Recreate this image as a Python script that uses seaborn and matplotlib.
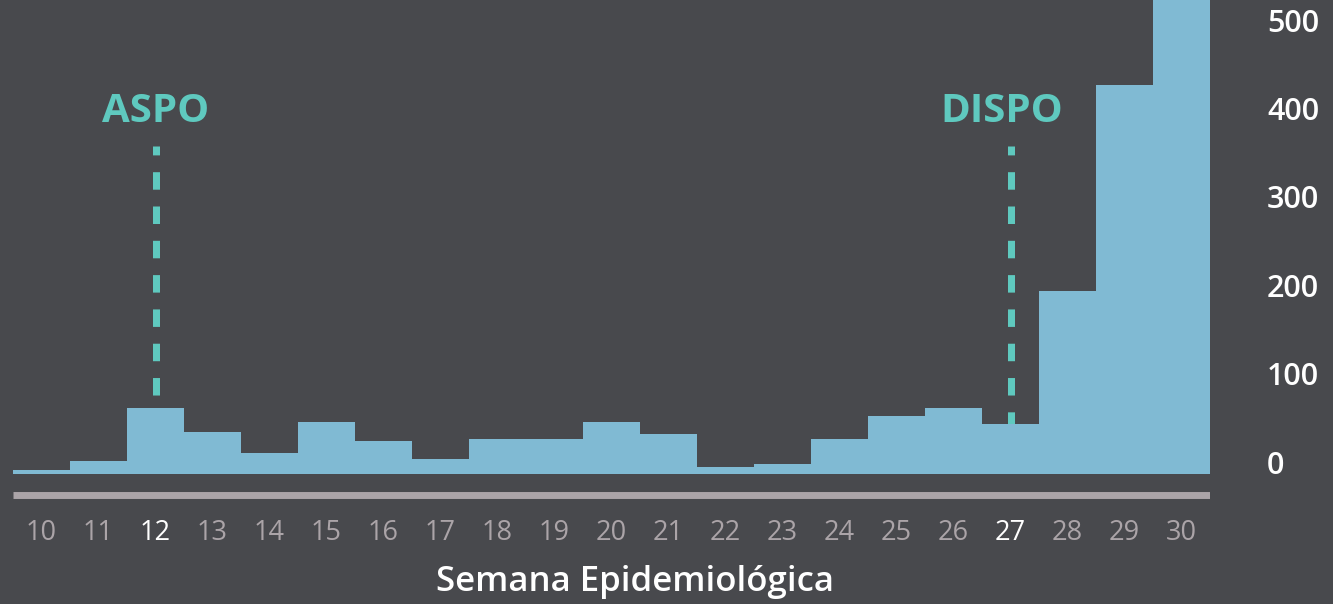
import matplotlib
matplotlib.use("Agg")
import matplotlib.pyplot as plt
import pandas as pd
import seaborn as sns

# datos por semana epidemiológica
semanas = list(range(10, 31))
casos = [5, 15, 74, 47, 24, 59, 37, 17, 39, 39, 59, 45, 8, 11, 39, 66, 74, 57, 207, 439, 600]
eventos = ["ASPO", "DISPO"]
semanas_evento = [12, 27]
semanas_destacadas = [12, 27]
yticks = [0, 100, 200, 300, 400, 500]

fondo = "#48494d"
celeste = "#80bad3"
turquesa = "#5fc9bf"
gris = "#aba4a8"

df = pd.DataFrame({"semana": semanas, "casos": casos})

sns.set_theme(style="white")
plt.rcParams["font.family"] = ["Open Sans", "DejaVu Sans"]
plt.rcParams["lines.scale_dashes"] = False

fig = plt.figure(figsize=(13.33, 6.04), dpi=100, facecolor=fondo)
W, H = 1333, 604
ax = fig.add_axes([13 / W, 1 - 500 / H, (1210 - 13) / W, 500 / H])
ax.set_facecolor(fondo)

# líneas de eventos (detrás de las barras)
for ev, sem in zip(eventos, semanas_evento):
    ax.plot([sem, sem], [371, 0], color=turquesa, lw=5.04,
            linestyle=(6.2, (12.6, 12.1)), solid_capstyle="butt",
            dash_capstyle="butt", zorder=1)

sns.histplot(data=df, x="semana", weights="casos", discrete=True,
             element="step", fill=True, color=celeste, alpha=1,
             linewidth=0, ax=ax, zorder=2)

offsets = [0, -6.5]
for ev, sem, off in zip(eventos, semanas_evento, offsets):
    ax.annotate(ev, xy=(sem, 397.7), xytext=(off, 0), textcoords="offset points",
                ha="center", va="baseline", color=turquesa,
                fontsize=29, fontweight="bold")

ax.axhline(-23.2, color=gris, lw=5, solid_capstyle="butt", zorder=3)

ax.set_xlim(9.5, 30.5)
ax.set_ylim(-29.4, 535.6)

ax.set_xticks(semanas)
ax.set_xticklabels([str(s) for s in semanas], fontsize=19.5)
for lab, s in zip(ax.get_xticklabels(), semanas):
    lab.set_color("white" if s in semanas_destacadas else gris)

ax.yaxis.tick_right()
ax.set_yticks(yticks)
ax.set_yticklabels([str(v) for v in yticks], fontsize=22, color="white",
                   fontweight="semibold")
plt.setp(ax.get_yticklabels(), va="baseline")

ax.tick_params(axis="x", length=0, pad=14)
ax.tick_params(axis="y", length=0, pad=41)
ax.set_xlabel("")
ax.set_ylabel("")
sns.despine(ax=ax, left=True, bottom=True, right=True, top=True)

fig.text(635 / W, 1 - 582 / H, "Semana Epidemiológica", ha="center", va="center",
         color="white", fontsize=25, fontweight="semibold")

fig.savefig("out.png", dpi=100, facecolor=fondo)
